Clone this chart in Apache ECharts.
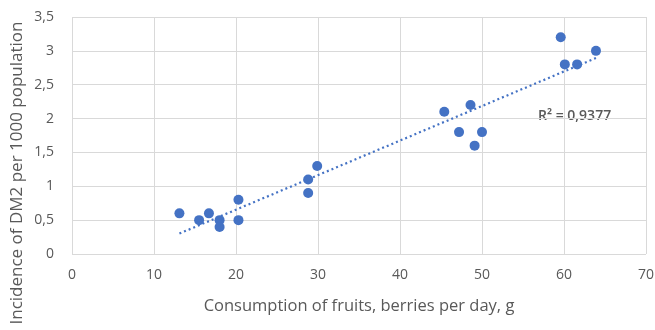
<!DOCTYPE html>
<html>
<head>
<meta charset="utf-8">
<script src="https://cdn.jsdelivr.net/npm/echarts@6/dist/echarts.min.js"></script>
<style>
  html, body { margin: 0; padding: 0; background: #fff; }
  #chart { width: 655px; height: 330px; }
</style>
</head>
<body>
<div id="chart"></div>
<script>
// consumption of fruits, berries per day, g
var consumption = [13.1, 15.5, 16.7, 18.0, 18.0, 20.3, 20.3, 28.8, 28.8, 29.9, 45.4, 48.6, 47.2, 50.0, 49.1, 59.6, 60.1, 61.6, 63.9];
// incidence of DM2 per 1000 population
var incidence = [0.6, 0.5, 0.6, 0.5, 0.4, 0.8, 0.5, 1.1, 0.9, 1.3, 2.1, 2.2, 1.8, 1.8, 1.6, 3.2, 2.8, 2.8, 3.0];
var r2Label = 'R² = 0,9377';
var yTitle = 'Incidence of DM2 per 1000 population';

var points = consumption.map(function (x, i) { return [x, incidence[i]]; });

// linear trend line by least squares
var n = points.length, sx = 0, sy = 0, sxx = 0, sxy = 0;
points.forEach(function (p) { sx += p[0]; sy += p[1]; sxx += p[0] * p[0]; sxy += p[0] * p[1]; });
var slope = (n * sxy - sx * sy) / (n * sxx - sx * sx);
var icpt = (sy - slope * sx) / n;
var xMin = Math.min.apply(null, consumption), xMax = Math.max.apply(null, consumption);
var trend = [[xMin, icpt + slope * xMin], [xMax, icpt + slope * xMax]];

function comma(v) { return String(v).replace('.', ','); }

var chart = echarts.init(document.getElementById('chart'));
chart.setOption({
  animation: false,
  textStyle: { fontFamily: 'Open Sans' },
  grid: { left: 72, right: 9, top: 17, bottom: 76, containLabel: false, outerBoundsMode: 'none' },
  xAxis: {
    type: 'value', min: 0, max: 70, interval: 10,
    name: 'Consumption of fruits, berries per day, g',
    nameLocation: 'middle', nameGap: 44,
    nameTextStyle: { color: '#595959', fontSize: 16.5 },
    axisLine: { show: false },
    axisTick: { show: false },
    axisLabel: { color: '#595959', fontSize: 14, margin: 14 },
    splitLine: { lineStyle: { color: '#d9d9d9' } }
  },
  yAxis: {
    type: 'value', min: 0, max: 3.5, interval: 0.5,
    axisLine: { show: false },
    axisTick: { show: false },
    axisLabel: { color: '#595959', fontSize: 14, margin: 18, formatter: comma },
    splitLine: { lineStyle: { color: '#d9d9d9' } }
  },
  series: [
    {
      type: 'line',
      data: trend,
      symbol: 'none',
      lineStyle: { color: '#4472c4', width: 2.2, type: [2, 3] },
      z: 1
    },
    {
      type: 'scatter',
      data: points,
      symbolSize: 10,
      itemStyle: { color: '#4472c4', opacity: 1 },
      z: 2
    }
  ],
  graphic: [
    {
      type: 'text',
      x: 17, y: 173, rotation: Math.PI / 2,
      style: { text: yTitle, fill: '#595959', font: '17px "Open Sans"', align: 'center', verticalAlign: 'middle' }
    },
    {
      type: 'text',
      left: 538, top: 109,
      style: { text: r2Label, fill: '#595959', font: '600 14px "Open Sans"' }
    }
  ]
});
</script>
</body>
</html>
